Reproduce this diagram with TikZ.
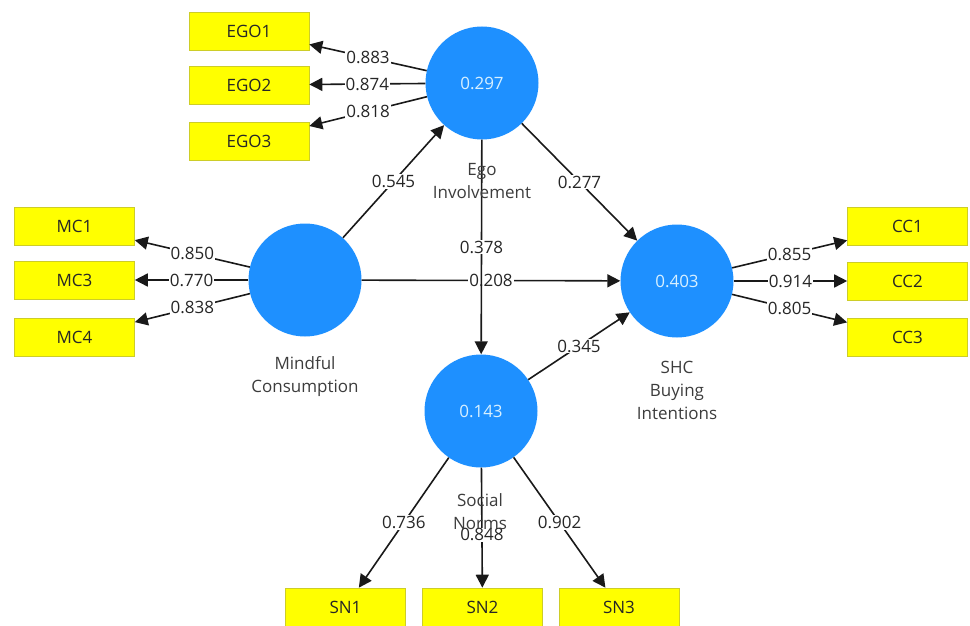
\documentclass[tikz,border=0pt]{standalone}
\usepackage{fontspec}
\setmainfont{Open Sans}
\usetikzlibrary{arrows.meta}
\definecolor{lvblue}{RGB}{30,144,255}
\definecolor{boxyellow}{RGB}{255,255,0}
\definecolor{boxedge}{RGB}{205,205,40}
\definecolor{lvtext}{RGB}{215,240,255}
\definecolor{captext}{RGB}{60,60,60}
\tikzset{
  lv/.style={circle, fill=lvblue, minimum size=113pt, inner sep=0pt, text=lvtext, font=\fontsize{17}{20}\selectfont},
  ind/.style={rectangle, fill=boxyellow, draw=boxedge, line width=0.6pt, minimum width=120pt, minimum height=38pt, inner sep=0pt, font=\fontsize{17}{20}\selectfont, text=black!85},
  lvcap/.style={align=center, text=captext, font=\fontsize{17}{23}\selectfont},
  con/.style={line width=1.6pt, black!90, -{Triangle[length=13pt,width=13pt]}},
  wt/.style={fill=white, inner sep=1pt, font=\fontsize{17}{20}\selectfont, text=black!85, pos=0.5}
}
\begin{document}
\begin{tikzpicture}[x=1pt,y=-1pt]
\useasboundingbox (0,0) rectangle (970,626);
% latent variables
\node[lv] (ego) at (482,83) {0.297};
\node[lv] (mc) at (305,280) {};
\node[lv] (shc) at (677,281) {0.403};
\node[lv] (sn) at (481,411) {0.143};
% indicators
\node[ind] (ego1) at (249,31) {EGO1};
\node[ind] (ego2) at (249,85) {EGO2};
\node[ind] (ego3) at (249,141) {EGO3};
\node[ind] (mc1) at (74.5,226) {MC1};
\node[ind] (mc3) at (74.5,280) {MC3};
\node[ind] (mc4) at (74.5,337) {MC4};
\node[ind] (cc1) at (907.5,226) {CC1};
\node[ind] (cc2) at (907.5,281) {CC2};
\node[ind] (cc3) at (907.5,337) {CC3};
\node[ind] (sn1) at (345.5,607) {SN1};
\node[ind] (sn2) at (482.5,607) {SN2};
\node[ind] (sn3) at (619,607) {SN3};
% outer loadings
\draw[con] (ego) -- node[wt] {0.883} (ego1);
\draw[con] (ego) -- node[wt] {0.874} (ego2);
\draw[con] (ego) -- node[wt] {0.818} (ego3);
\draw[con] (mc) -- node[wt] {0.850} (mc1);
\draw[con] (mc) -- node[wt] {0.770} (mc3);
\draw[con] (mc) -- node[wt] {0.838} (mc4);
\draw[con] (shc) -- node[wt] {0.855} (cc1);
\draw[con] (shc) -- node[wt] {0.914} (cc2);
\draw[con] (shc) -- node[wt] {0.805} (cc3);
\draw[con] (sn) -- node[wt] {0.736} (sn1);
\draw[con] (sn) -- node[wt, pos=0.56] (l848) {0.848} (sn2);
\draw[con] (sn) -- node[wt] {0.902} (sn3);
% structural paths
\draw[con] (mc) -- node[wt] {0.545} (ego);
\draw[con] (ego) -- node[wt] {0.277} (shc);
\draw[con] (mc) -- node[wt] {0.208} (shc);
\draw[con] (sn) -- node[wt] {0.345} (shc);
\draw[con] (ego) -- node[wt] {0.378} (sn);
% captions
\node[lvcap] (egocap) at (482,181) {Ego\\Involvement};
\node[lvcap] (mccap) at (305,377) {Mindful\\Consumption};
\node[lvcap] (shccap) at (677,390) {SHC\\Buying\\Intentions};
\node[lvcap] (sncap) at (480,512) {Social\\Norms};
\end{tikzpicture}
\end{document}
